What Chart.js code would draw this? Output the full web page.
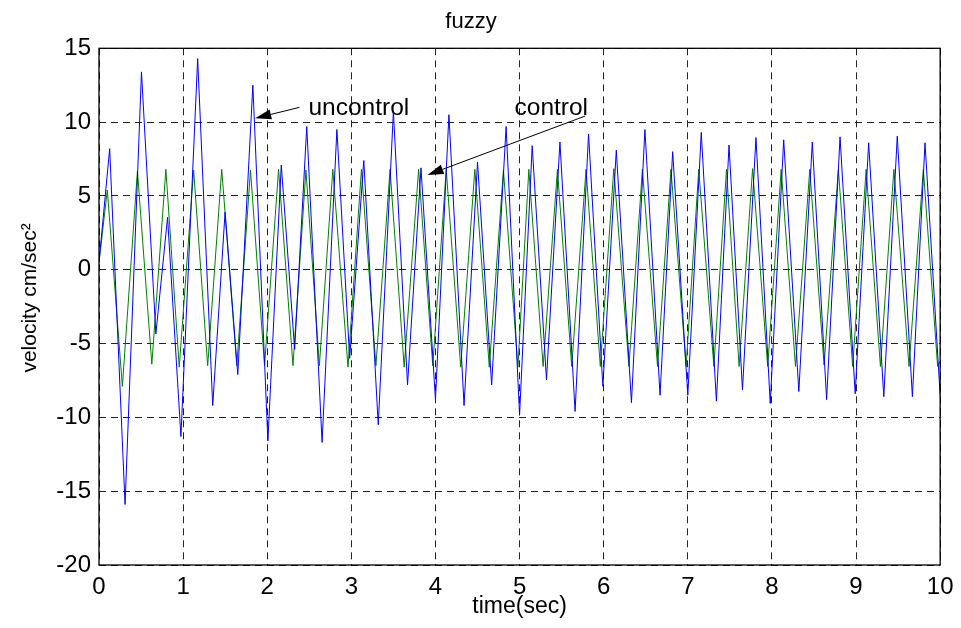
<!DOCTYPE html>
<html>
<head>
<meta charset="utf-8">
<script src="https://cdn.jsdelivr.net/npm/chart.js@4.4.1/dist/chart.umd.min.js"></script>
<style>
  html, body { margin: 0; padding: 0; background: #fff; }
  canvas { display: block; }
</style>
</head>
<body>
<canvas id="myChart" width="961" height="628"></canvas>
<script>
// values (peaks / troughs of each trace)
var blueTime = [0, 0.127, 0.31, 0.505, 0.676, 0.815, 0.974, 1.173, 1.352, 1.499, 1.65, 1.829, 2.008, 2.167, 2.326, 2.47, 2.652, 2.828, 2.98, 3.148, 3.32, 3.5, 3.668, 3.828, 4.0, 4.16, 4.34, 4.5, 4.668, 4.84, 5.0, 5.15, 5.32, 5.48, 5.66, 5.82, 5.99, 6.15, 6.33, 6.49, 6.67, 6.82, 7.0, 7.16, 7.34, 7.49, 7.65, 7.81, 7.98, 8.14, 8.32, 8.48, 8.65, 8.81, 8.99, 9.15, 9.33, 9.49, 9.67, 9.82, 10.0];
var blueVel = [0.5, 8.2, -15.9, 13.4, -4.35, 3.55, -11.3, 14.3, -9.2, 3.9, -7.1, 12.5, -11.6, 7.1, -5.4, 9.7, -11.7, 9.5, -6.0, 7.4, -10.5, 10.7, -7.8, 6.9, -8.8, 10.5, -9.2, 7.3, -7.8, 9.7, -9.85, 8.4, -7.45, 8.65, -9.6, 9.2, -7.9, 8.1, -9.0, 9.5, -8.5, 8.0, -8.5, 9.3, -8.9, 8.45, -8.15, 8.95, -9.05, 8.8, -8.25, 8.65, -8.8, 9.0, -8.4, 8.6, -8.6, 9.05, -8.6, 8.6, -8.5];

var greenTime = [0, 0.099, 0.278, 0.457, 0.628, 0.795, 0.954, 1.125, 1.292, 1.459, 1.638, 1.801, 1.968, 2.135, 2.306, 2.46, 2.62, 2.78, 2.96, 3.12, 3.292, 3.46, 3.628, 3.8, 3.968, 4.128, 4.3, 4.468, 4.64, 4.808, 4.98, 5.11, 5.28, 5.45, 5.62, 5.79, 5.96, 6.12, 6.3, 6.46, 6.64, 6.8, 6.98, 7.13, 7.31, 7.46, 7.61, 7.77, 7.95, 8.11, 8.28, 8.45, 8.62, 8.79, 8.96, 9.12, 9.29, 9.45, 9.63, 9.8, 9.97, 10.0];
var greenVel = [0.5, 5.4, -7.9, 6.7, -6.4, 6.8, -6.6, 6.75, -6.5, 6.8, -6.5, 6.75, -6.5, 6.8, -6.5, 6.75, -6.5, 6.8, -6.6, 6.8, -6.5, 6.8, -6.6, 6.8, -6.5, 6.8, -6.6, 6.8, -6.6, 6.75, -6.6, 6.8, -6.55, 6.8, -6.55, 6.8, -6.55, 6.85, -6.55, 6.8, -6.55, 6.8, -6.55, 6.8, -6.55, 6.8, -6.55, 6.85, -6.55, 6.8, -6.55, 6.8, -6.45, 6.8, -6.55, 6.8, -6.55, 6.8, -6.55, 6.8, -6.55, -6.2];

var xTicks = [0, 1, 2, 3, 4, 5, 6, 7, 8, 9, 10];
var yTicks = [-20, -15, -10, -5, 0, 5, 10, 15];

// text + arrow annotations, in data units
var notes = [
  { text: "uncontrol", tx: 2.49, ty: 10.51, from: [2.384, 11.0], to: [1.857, 10.26] },
  { text: "control",   tx: 4.94, ty: 10.49, from: [5.78, 10.41], to: [3.906, 6.42] }
];

var FONT = "'Liberation Sans', Arial, Helvetica, sans-serif";

function pts(t, v) {
  return t.map(function (x, i) { return { x: x, y: v[i] }; });
}

var boxPlugin = {
  id: 'matlabBox',
  afterDraw: function (chart) {
    var ctx = chart.ctx, a = chart.chartArea;
    var xs = chart.scales.x, ys = chart.scales.y;
    ctx.save();
    // axes box
    ctx.strokeStyle = '#000';
    ctx.lineWidth = 1.3;
    ctx.strokeRect(a.left, a.top, a.right - a.left, a.bottom - a.top);

    // annotations
    ctx.fillStyle = '#000';
    ctx.lineWidth = 1;
    ctx.font = '24.5px ' + FONT;
    ctx.textAlign = 'left';
    ctx.textBaseline = 'alphabetic';
    notes.forEach(function (n) {
      ctx.fillText(n.text, xs.getPixelForValue(n.tx), ys.getPixelForValue(n.ty));
      var x0 = xs.getPixelForValue(n.from[0]), y0 = ys.getPixelForValue(n.from[1]);
      var x1 = xs.getPixelForValue(n.to[0]), y1 = ys.getPixelForValue(n.to[1]);
      var ang = Math.atan2(y1 - y0, x1 - x0);
      var len = 16, half = 5;
      var bx = x1 - len * Math.cos(ang), by = y1 - len * Math.sin(ang);
      ctx.beginPath();
      ctx.moveTo(x0, y0);
      ctx.lineTo(bx, by);
      ctx.stroke();
      ctx.beginPath();
      ctx.moveTo(x1, y1);
      ctx.lineTo(bx + half * Math.sin(ang), by - half * Math.cos(ang));
      ctx.lineTo(bx - half * Math.sin(ang), by + half * Math.cos(ang));
      ctx.closePath();
      ctx.fill();
    });
    ctx.restore();
  }
};

var ctx = document.getElementById("myChart").getContext('2d');
var myChart = new Chart(ctx, {
  type: 'line',
  data: {
    datasets: [
      {
        label: 'uncontrol',
        data: pts(blueTime, blueVel),
        borderColor: '#0000ff',
        borderWidth: 1,
        pointRadius: 0,
        tension: 0,
        fill: false
      },
      {
        label: 'control',
        data: pts(greenTime, greenVel),
        borderColor: '#008000',
        borderWidth: 1,
        pointRadius: 0,
        tension: 0,
        fill: false
      }
    ]
  },
  options: {
    responsive: false,
    devicePixelRatio: 1,
    animation: false,
    events: [],
    layout: { padding: { left: 0, right: 19, top: 0, bottom: 0 } },
    plugins: {
      legend: { display: false },
      tooltip: { enabled: false },
      title: {
        display: true,
        text: 'fuzzy',
        color: '#000',
        font: { family: FONT, size: 22, weight: 'normal' },
        padding: { top: 8.6, bottom: 13.3 }
      }
    },
    scales: {
      x: {
        type: 'linear',
        min: 0,
        max: 10,
        afterBuildTicks: function (s) { s.ticks = xTicks.map(function (v) { return { value: v }; }); },
        afterFit: function (s) { s.height = 63; },
        ticks: { color: '#000', font: { family: FONT, size: 24 }, padding: 7.5, maxRotation: 0 },
        grid: { color: '#222', lineWidth: 1, drawTicks: false },
        border: { display: false, dash: [7, 5] },
        title: {
          display: true,
          text: 'time(sec)',
          color: '#000',
          font: { family: FONT, size: 23 },
          padding: { top: 0, bottom: 8 }
        }
      },
      y: {
        type: 'linear',
        min: -20,
        max: 15,
        afterBuildTicks: function (s) { s.ticks = yTicks.map(function (v) { return { value: v }; }); },
        afterFit: function (s) { s.width = 99; },
        ticks: { color: '#000', font: { family: FONT, size: 24 }, padding: 8 },
        grid: { color: '#222', lineWidth: 1, drawTicks: false },
        border: { display: false, dash: [7, 5] },
        title: {
          display: true,
          text: '   velocity cm/sec\u00b2',
          color: '#000',
          font: { family: FONT, size: 21 },
          padding: { top: 17.4, bottom: 0 }
        }
      }
    }
  },
  plugins: [boxPlugin]
});
</script>
</body>
</html>
